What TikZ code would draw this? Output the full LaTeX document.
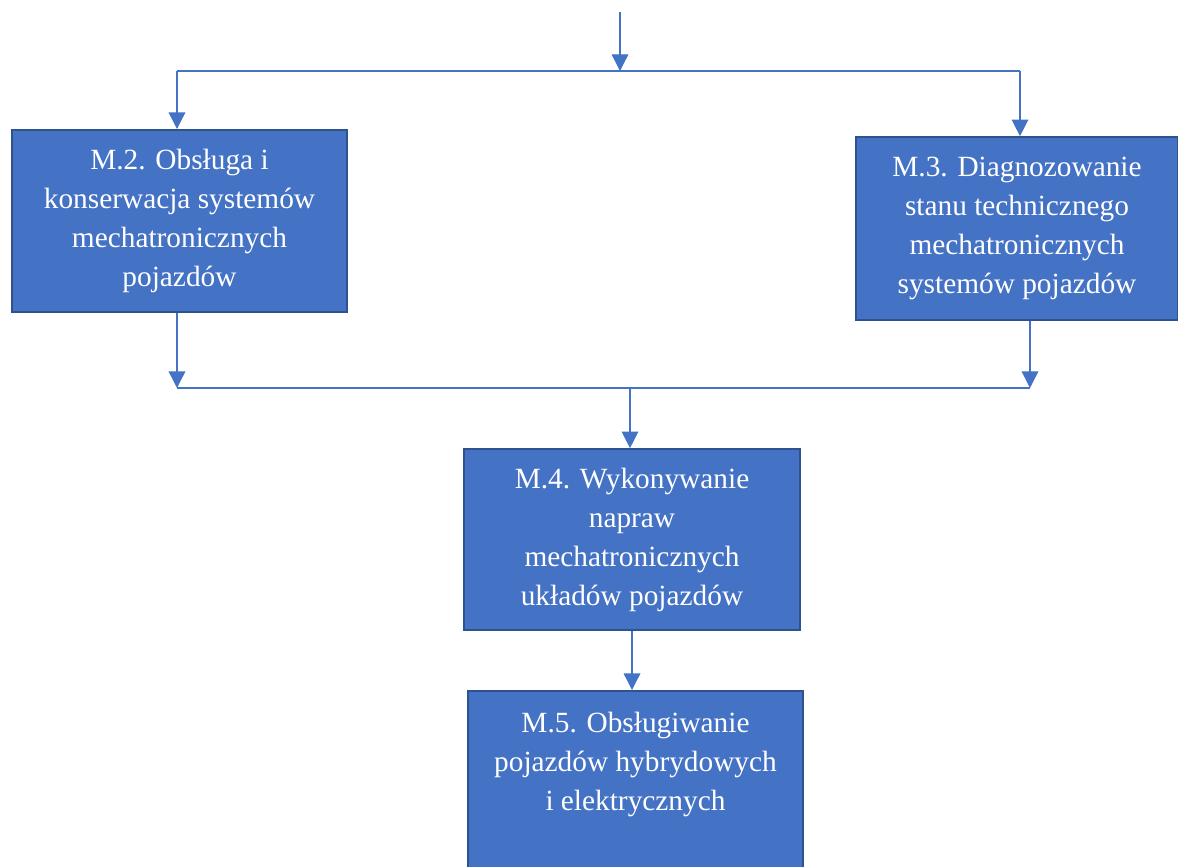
\documentclass[tikz,border=0pt]{standalone}
\usepackage{fontspec}
\setmainfont{Liberation Serif}
\usepackage{tikz}
\usetikzlibrary{arrows.meta, positioning, calc}
\definecolor{boxblue}{RGB}{68,114,196}
\definecolor{edgeblue}{RGB}{47,82,143}

\begin{document}
\begin{tikzpicture}[
    x=0.75pt, y=-0.75pt,
    box/.style   = {rectangle, draw=edgeblue, line width=1.5pt,
                    fill=boxblue, text=white, align=center,
                    font=\fontsize{22}{29.25}\selectfont, inner sep=0pt},
    arrow/.style = {-{Triangle[width=12.5pt,length=12.5pt]}, line width=1pt,
                    color=boxblue},
    link/.style  = {line width=1pt, color=boxblue},
]
\useasboundingbox (0,0) rectangle (1178,867);
\clip (0,0) rectangle (1178,867);

\node[box, minimum width=251pt, minimum height=136.5pt] (m2) at (179.5,221)
    {M.2. Obsługa i\\konserwacja systemów\\mechatronicznych\\pojazdów};
\node[box, minimum width=241pt, minimum height=137pt] (m3) at (1017,228.5)
    {M.3. Diagnozowanie\\stanu technicznego\\mechatronicznych\\systemów pojazdów};
\node[box, minimum width=252pt, minimum height=135.5pt] (m4) at (632,539.5)
    {M.4. Wykonywanie\\napraw\\mechatronicznych\\układów pojazdów};
\node[box, minimum width=251pt, anchor=north, inner ysep=16pt,
      text depth=190pt] (m5) at (635.5,690)
    {M.5. Obsługiwanie\\pojazdów hybrydowych\\i elektrycznych};

% split above
\coordinate (in)  at (620,12);
\coordinate (spl) at (620,71);
\coordinate (sl)  at (177,71);
\coordinate (sr)  at (1020,71);

% join below
\coordinate (jl) at (177,388);
\coordinate (jr) at (1030,388);
\coordinate (jm) at (630,388);

\draw[arrow] (in) -- (spl);
\draw[link]  (sl) -- (sr);
\draw[arrow] (sl) -- (sl |- m2.north);
\draw[arrow] (sr) -- (sr |- m3.north);

\draw[arrow] (m2.south -| jl) -- (jl);
\draw[arrow] (m3.south -| jr) -- (jr);
\draw[link]  (jl) -- (jr);
\draw[arrow] (jm) -- (jm |- m4.north);

\draw[arrow] (m4.south) -- (m4.south |- m5.north);
\end{tikzpicture}
\end{document}
